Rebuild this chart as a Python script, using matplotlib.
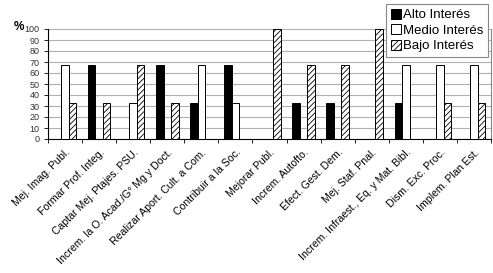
import matplotlib.pyplot as plt
import numpy as np

categories = ['Mej. Imag. Publ.', 'Formar Prof. Integ.', 'Captar Mej. Ptajes. PSU.',
              'Increm. la O. Acad./G° Mg y Doct.', 'Realizar Aport. Cult. a Com.',
              'Contribuir a la Soc.', 'Mejorar Publ.', 'Increm. Autofto.',
              'Efect. Gest. Dem.', 'Mej. Staf. Pnal.',
              'Increm. Infraest., Eq. y Mat. Bibl.', 'Dism. Exc. Proc.', 'Implem. Plan Est.']
alto = [0, 67, 0, 67, 33, 67, 0, 33, 33, 0, 33, 0, 0]
medio = [67, 0, 33, 0, 67, 33, 0, 0, 0, 0, 67, 67, 67]
bajo = [33, 33, 67, 33, 0, 0, 100, 67, 67, 100, 0, 33, 33]

plt.rcParams['font.family'] = ['Liberation Sans', 'DejaVu Sans']
plt.rcParams['hatch.color'] = '#777777'
plt.rcParams['hatch.linewidth'] = 0.6

fig = plt.figure(figsize=(4.93, 2.73), dpi=100)
ax = fig.add_axes([48 / 493, 1 - 139 / 273, (491 - 48) / 493, (139 - 29) / 273])

x = np.arange(len(categories))
w = 0.22
ax.bar(x - w, alto, w, color='black', edgecolor='black', linewidth=0.7, label='Alto Interés', zorder=3)
ax.bar(x, medio, w, color='white', edgecolor='black', linewidth=0.7, label='Medio Interés', zorder=3)
ax.bar(x + w, bajo, w, color='white', edgecolor='black', linewidth=0.7, hatch='//////',
       label='Bajo Interés', zorder=3)

ax.set_xlim(-0.5, len(categories) - 0.5)
ax.set_ylim(0, 100)
ax.set_yticks(range(0, 101, 10))
ax.yaxis.grid(True, color='#b0b0b0', linewidth=0.8, zorder=0)
ax.tick_params(axis='y', labelsize=6.5, length=3, width=0.6, pad=3, labelcolor='#333333')

ax.set_xticks(x)
ax.set_xticklabels(categories, rotation=45, ha='right', rotation_mode='anchor', fontsize=7.6)
ax.tick_params(axis='x', which='major', length=0, pad=6)
ax.set_xticks(np.arange(-0.5, len(categories), 1), minor=True)
ax.tick_params(axis='x', which='minor', length=3, width=0.6, direction='out')

ax.spines['top'].set_visible(False)
ax.spines['right'].set_color('#888888')
for s in ['left', 'bottom']:
    ax.spines[s].set_linewidth(0.8)

fig.text(14 / 493, 1 - 27 / 273, '%', fontsize=8.5, fontweight='bold', va='center')

leg = ax.legend(loc='upper left', bbox_to_anchor=(386 / 493, 1 - 4 / 273),
                bbox_transform=fig.transFigure, fontsize=9.5, frameon=True, fancybox=False,
                edgecolor='#888888', framealpha=1, handlelength=0.8, handleheight=0.8,
                handletextpad=0.15, labelspacing=0.22, borderpad=0.35, borderaxespad=0)
leg.get_frame().set_linewidth(0.8)

fig.savefig('out.png', dpi=100)
